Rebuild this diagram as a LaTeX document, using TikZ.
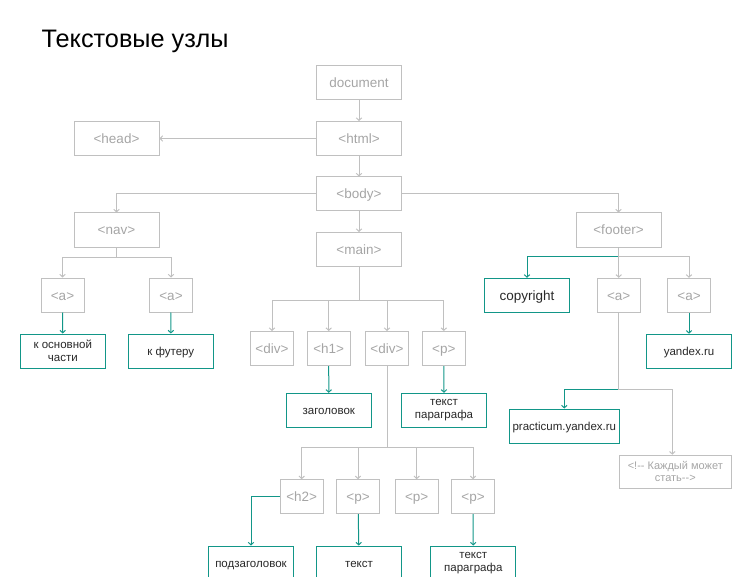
\documentclass[tikz,border=0pt]{standalone}
\usepackage{fontspec}
\setmainfont{Liberation Sans}
\usetikzlibrary{arrows.meta}
\definecolor{wire}{RGB}{192,192,192}
\definecolor{tagtext}{RGB}{165,165,165}
\definecolor{leafline}{RGB}{18,150,136}
\definecolor{leaftext}{RGB}{40,40,40}

\begin{document}
\begin{tikzpicture}[x=1pt,y=-1pt,
  tag/.style={draw=wire,line width=1pt,text=tagtext,minimum width=85pt,minimum height=34pt,
    inner sep=1pt,text height=10pt,text depth=0pt,font=\fontsize{13.5}{15}\selectfont},
  smalltag/.style={tag,minimum width=43pt},
  leaftwo/.style={draw=leafline,line width=1pt,text=leaftext,minimum width=85pt,minimum height=34pt,
    inner sep=1pt,align=center,font=\fontsize{11.5}{12.5}\selectfont},
  leaf/.style={leaftwo,text height=8.5pt,text depth=0pt},
  conn/.style={wire,line width=1pt,-{Straight Barb[length=2.5pt,width=5.5pt]}},
  leafconn/.style={conn,leafline}]
 \useasboundingbox (0,0) rectangle (746,577);
 \node[anchor=base west,font=\fontsize{25.3}{28}\selectfont] (title) at (38,48) {Текстовые узлы};
 % upper part of the tree
 \node[tag] (doc) at (359,82.5) {document};
 \node[tag] (html) at (359,138.5) {<html>};
 \node[tag] (head) at (116.5,138.5) {<head>};
 \node[tag] (body) at (359,194) {<body>};
 \node[tag] (nav) at (116.5,230) {<nav>};
 \node[tag] (main) at (359,249.5) {<main>};
 \node[tag] (footer) at (618.5,230) {<footer>};
 \draw[conn] (doc) -- (html);
 \draw[conn] (html) -- (head);
 \draw[conn] (html) -- (body);
 \draw[conn] (body) -| (nav);
 \draw[conn] (body) -- (main);
 \draw[conn] (body) -| (footer);
 % nav
 \node[smalltag] (navA) at (62.5,295) {<a>};
 \node[smalltag] (navB) at (171,295) {<a>};
 \node[leaftwo] (toMain) at (62.8,351) {к основной\\части};
 \node[leaf] (toFooter) at (170.8,351) {к футеру};
 \foreach \n in {navA,navB}
   \draw[conn] (nav.south) -- ++(0,10) -| (\n.north);
 \draw[leafconn] (navA) -- (toMain);
 \draw[leafconn] (navB) -- (toFooter);
 % main
 \node[smalltag] (divA) at (272,348.5) {<div>};
 \node[smalltag] (hOne) at (328.7,348.5) {<h1>};
 \node[smalltag] (divB) at (387,348.5) {<div>};
 \node[smalltag] (pA) at (443.8,348.5) {<p>};
 \node[leaf] (heading) at (328.8,410.3) {заголовок};
 \node[leaftwo] (paraA) at (444,410.3) {текст\\параграфа};
 \foreach \n in {divA,hOne,divB,pA}
   \draw[conn] (main.south) -- ++(0,33) -| (\n.north);
 \draw[leafconn] (hOne) -- (heading);
 \draw[leafconn] (pA) -- (paraA);
 % inner div
 \node[smalltag] (hTwo) at (301.7,496.7) {<h2>};
 \node[smalltag] (pB) at (358,496.7) {<p>};
 \node[smalltag] (pC) at (416.7,496.7) {<p>};
 \node[smalltag] (pD) at (473,496.7) {<p>};
 \node[leaf] (subhead) at (251,563) {подзаголовок};
 \node[leaf] (textB) at (359,563) {текст};
 \node[leaftwo] (paraB) at (473.3,563) {текст\\параграфа};
 \foreach \n in {hTwo,pB,pC,pD}
   \draw[conn] (divB.south) -- ++(0,81.7) -| (\n.north);
 \draw[leafconn] (hTwo.west) -| (subhead.north);
 \draw[leafconn] (pB) -- (textB);
 \draw[leafconn] (pD) -- (paraB);
 % footer
 \node[leaf,text height=9.5pt,font=\fontsize{13.5}{15}\selectfont] (copyright) at (527,295.3) {copyright};
 \node[smalltag] (footA) at (618.7,295.3) {<a>};
 \node[smalltag] (footB) at (689,295.3) {<a>};
 \node[leaf] (yandex) at (689,351.2) {yandex.ru};
 \node[leaf,minimum width=110pt] (practicum) at (564.3,426) {practicum.yandex.ru};
 \node[tag,minimum width=112pt,minimum height=33pt,text height=,text depth=,align=center,
   font=\fontsize{11}{12.5}\selectfont] (comment) at (675.3,471.7) {<!-{}- Каждый может\\стать-{}->};
 \draw[leafconn] (footer.south) -- ++(0,9.3) -| (copyright.north);
 \draw[leafconn] (footA.south) -- ++(0,76.3) -| (practicum.north);
 \draw[conn] (footer.south) -- ++(0,9.3) -| (footA.north);
 \draw[conn] (footer.south) -- ++(0,9.3) -| (footB.north);
 \draw[conn] (footA.south) -- ++(0,76.3) -| ([xshift=-3pt]comment.north);
 \draw[leafconn] (footB) -- (yandex);
\end{tikzpicture}
\end{document}
